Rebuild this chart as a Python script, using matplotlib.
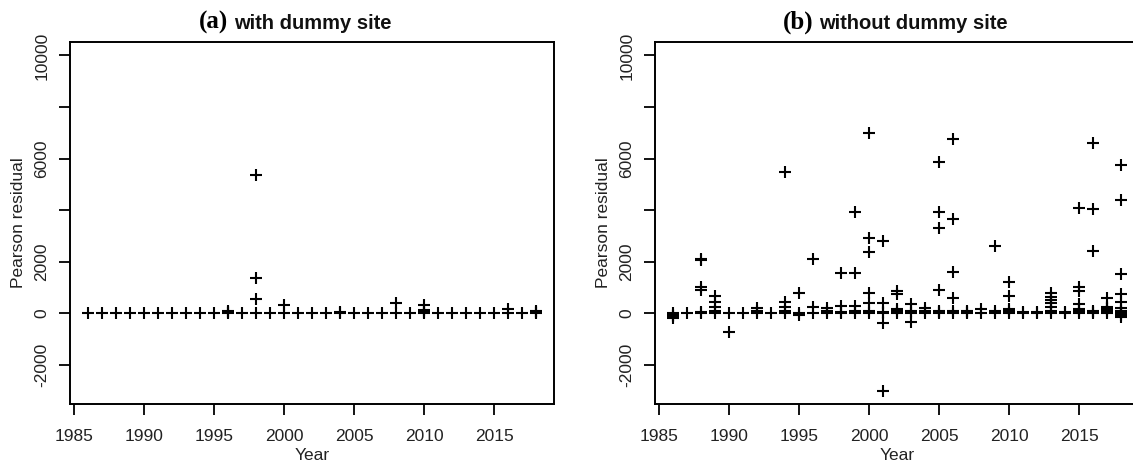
import matplotlib
matplotlib.use("Agg")
import matplotlib.pyplot as plt

plt.rcParams['font.family'] = ['Liberation Sans', 'DejaVu Sans']

# Pearson residuals by year
# (a) with dummy site
a_years = list(range(1986, 2019)) + [1996, 1996, 1998, 1998, 1998, 2000, 2004, 2008,
                                     2010, 2010, 2010, 2016, 2018, 2018]
a_vals = [0] * 33 + [100, 50, 5350, 1380, 550, 320, 50, 390,
                     320, 130, 50, 150, 100, 50]

# (b) without dummy site
b_years = list(range(1986, 2019)) + [
    1986, 1986, 1986,
    1988, 1988, 1988, 1988, 1988,
    1989, 1989, 1989, 1989,
    1990,
    1992, 1992,
    1994, 1994, 1994, 1994,
    1995, 1995,
    1996, 1996,
    1997, 1997,
    1998, 1998, 1998,
    1999, 1999, 1999, 1999,
    2000, 2000, 2000, 2000, 2000, 2000,
    2001, 2001, 2001, 2001, 2001,
    2002, 2002, 2002, 2002,
    2003, 2003, 2003,
    2004, 2004,
    2005, 2005, 2005, 2005, 2005, 2005,
    2006, 2006, 2006, 2006, 2006,
    2007, 2007,
    2008,
    2009, 2009,
    2010, 2010, 2010, 2010,
    2011, 2012,
    2013, 2013, 2013, 2013, 2013, 2013,
    2014,
    2015, 2015, 2015, 2015, 2015, 2015,
    2016, 2016, 2016, 2016, 2016,
    2017, 2017, 2017, 2017, 2017,
    2018, 2018, 2018, 2018, 2018, 2018, 2018, 2018, 2018, 2018,
]
b_vals = [0] * 33 + [
    -50, -100, -200,
    2050, 2100, 1030, 900, 50,
    650, 450, 250, 100,
    -710,
    200, 100,
    5480, 450, 250, 100,
    770, -50,
    2090, 250,
    200, 100,
    1550, 300, 50,
    3910, 1550, 300, 100,
    6990, 2900, 2360, 800, 410, 100,
    2800, 410, 50, -360, -3030,
    850, 750, 150, 100,
    350, 100, -330,
    200, 100,
    5870, 3910, 3310, 900, 100, 50,
    6740, 3650, 1610, 600, 100,
    100, 50,
    150,
    2620, 100,
    1200, 680, 150, 100,
    50, 50,
    770, 640, 510, 390, 250, 100,
    50,
    4100, 1030, 860, 350, 150, 100,
    6600, 4040, 2420, 100, 50,
    600, 250, 200, 150, 100,
    5740, 4390, 1520, 740, 450, 200, 100, 50, -50, -150,
]

yticks = [-2000, 0, 2000, 4000, 6000, 8000, 10000]
ytick_labels = ['-2000', '0', '2000', '', '6000', '', '10000']
xticks = [1985, 1990, 1995, 2000, 2005, 2010, 2015]

W, H = 1133, 463
fig = plt.figure(figsize=(W / 100, H / 100), dpi=100)

panels = [
    (70, a_years, a_vals, '(a)', 'with dummy site'),
    (655, b_years, b_vals, '(b)', 'without dummy site'),
]

for left, yrs, vals, tag, title in panels:
    ax = fig.add_axes([left / W, (H - 404) / H, 484 / W, (404 - 42) / H])
    ax.plot(yrs, vals, linestyle='none', marker='+', color='black',
            markersize=9, markeredgewidth=1.5)
    ax.set_xlim(1984.72, 2019.28)
    ax.set_ylim(-3520, 10520)
    ax.set_xticks(xticks)
    ax.set_yticks(yticks)
    ax.set_yticklabels(ytick_labels, rotation=90, va='center')
    ax.tick_params(direction='out', length=8, width=1.3, labelsize=12.5,
                   colors='black', labelcolor='#222222')
    ax.tick_params(axis='x', pad=10)
    ax.tick_params(axis='y', pad=7)
    for s in ax.spines.values():
        s.set_linewidth(1.4)
    ax.set_xlabel('Year', fontsize=12.5, color='#222222', labelpad=3)
    ax.set_ylabel('Pearson residual', fontsize=12.5, color='#222222', labelpad=6)

    cx = left + 484 / 2 - 5
    fig.text((cx - 79) / W, 1 - 29 / H, tag, family='Liberation Serif',
             fontweight='bold', fontsize=18, ha='right', va='baseline')
    fig.text((cx - 73) / W, 1 - 29 / H, title, fontweight='bold',
             fontsize=14.5, ha='left', va='baseline', color='#111111')

fig.savefig('out.png', dpi=100)
